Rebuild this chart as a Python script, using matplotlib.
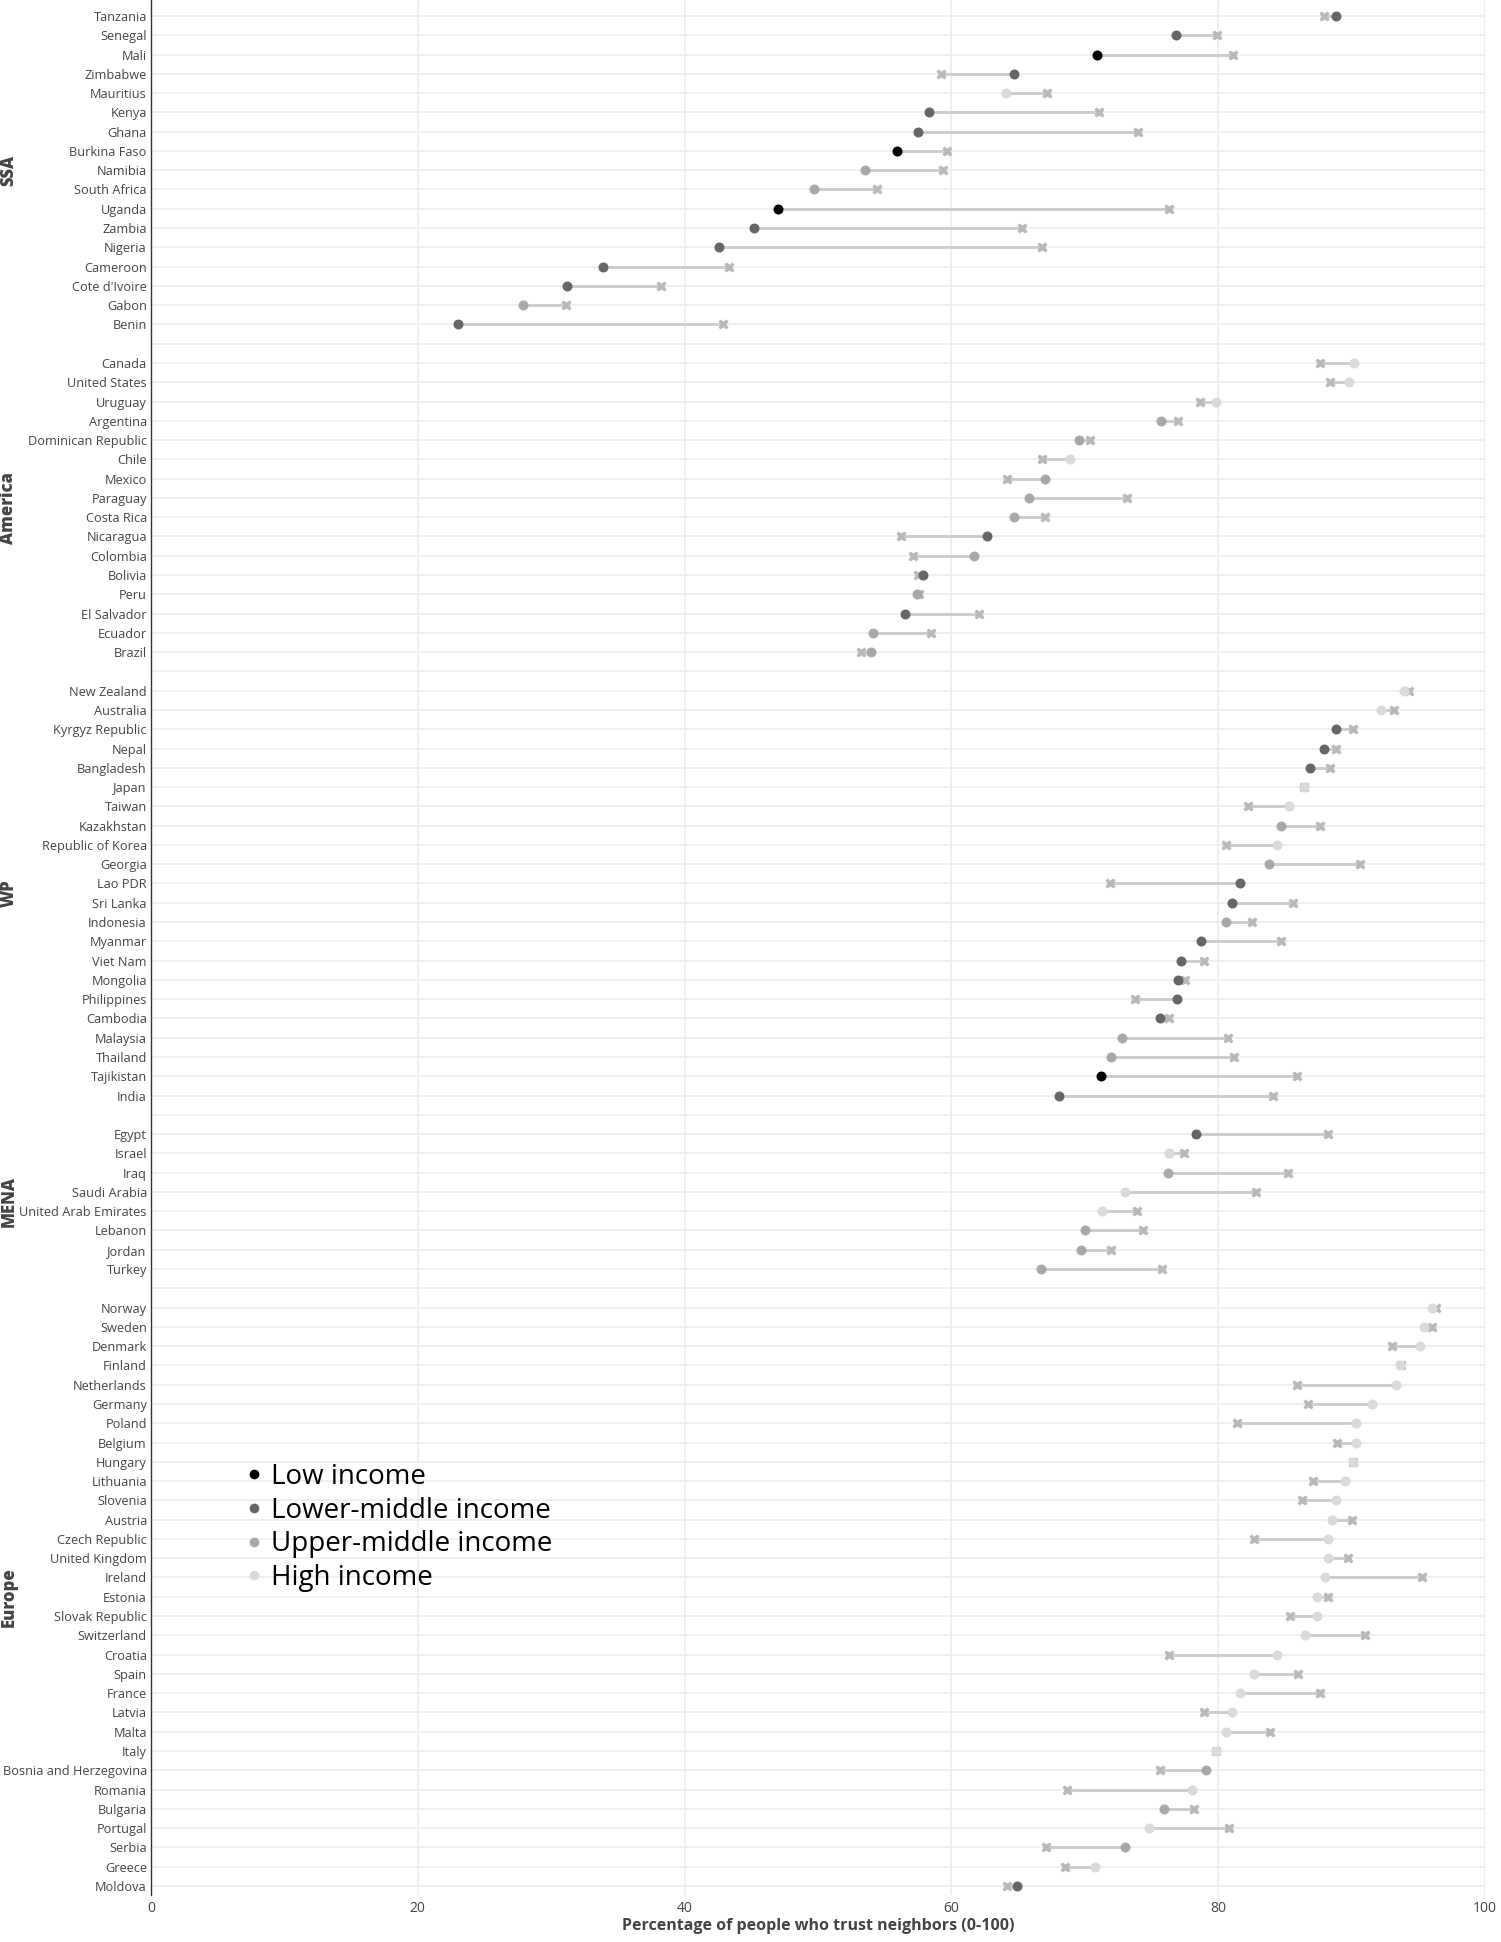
import matplotlib
matplotlib.use("Agg")
import matplotlib.pyplot as plt
from matplotlib.lines import Line2D

plt.rcParams['font.family'] = ['Open Sans', 'DejaVu Sans']

# --- data ---
ssa_countries = ["Tanzania", "Senegal", "Mali", "Zimbabwe", "Mauritius", "Kenya", "Ghana",
                 "Burkina Faso", "Namibia", "South Africa", "Uganda", "Zambia", "Nigeria",
                 "Cameroon", "Cote d'Ivoire", "Gabon", "Benin"]
ssa_dot = [88.8, 76.8, 70.9, 64.7, 64.1, 58.3, 57.5, 55.9, 53.5, 49.7, 47.0, 45.2, 42.6,
           33.9, 31.2, 27.9, 23.0]
ssa_cross = [87.9, 79.9, 81.1, 59.2, 67.2, 71.1, 74.0, 59.7, 59.4, 54.4, 76.3, 65.3, 66.8,
             43.3, 38.2, 31.1, 42.9]
ssa_income = ["LM", "LM", "L", "LM", "H", "LM", "LM", "L", "UM", "UM", "L", "LM", "LM",
              "LM", "LM", "UM", "LM"]

am_countries = ["Canada", "United States", "Uruguay", "Argentina", "Dominican Republic", "Chile",
                "Mexico", "Paraguay", "Costa Rica", "Nicaragua", "Colombia", "Bolivia", "Peru",
                "El Salvador", "Ecuador", "Brazil"]
am_dot = [90.2, 89.8, 79.8, 75.7, 69.6, 68.9, 67.0, 65.8, 64.7, 62.7, 61.7, 57.9, 57.4,
          56.5, 54.1, 54.0]
am_cross = [87.6, 88.4, 78.6, 77.0, 70.4, 66.8, 64.2, 73.2, 67.0, 56.2, 57.1, 57.5, 57.6,
            62.1, 58.5, 53.2]
am_income = ["H", "H", "H", "UM", "UM", "H", "UM", "UM", "UM", "LM", "UM", "LM", "UM",
             "LM", "UM", "UM"]

wp_countries = ["New Zealand", "Australia", "Kyrgyz Republic", "Nepal", "Bangladesh", "Japan",
                "Taiwan", "Kazakhstan", "Republic of Korea", "Georgia", "Lao PDR", "Sri Lanka",
                "Indonesia", "Myanmar", "Viet Nam", "Mongolia", "Philippines", "Cambodia",
                "Malaysia", "Thailand", "Tajikistan", "India"]
wp_dot = [93.9, 92.2, 88.8, 87.9, 86.9, 86.4, 85.3, 84.7, 84.4, 83.8, 81.6, 81.0, 80.6,
          78.7, 77.2, 77.0, 76.9, 75.6, 72.8, 72.0, 71.2, 68.1]
wp_cross = [94.3, 93.2, 90.1, 88.8, 88.4, 86.4, 82.2, 87.6, 80.6, 90.6, 71.9, 85.6, 82.5,
            84.7, 78.9, 77.5, 73.8, 76.3, 80.7, 81.2, 85.9, 84.1]
wp_income = ["H", "H", "LM", "LM", "LM", "H", "H", "UM", "H", "UM", "LM", "LM", "UM",
             "LM", "LM", "LM", "LM", "LM", "UM", "UM", "L", "LM"]

mena_countries = ["Egypt", "Israel", "Iraq", "Saudi Arabia", "United Arab Emirates", "Lebanon",
                  "Jordan", "Turkey"]
mena_dot = [78.3, 76.3, 76.2, 73.0, 71.3, 70.0, 69.7, 66.7]
mena_cross = [88.2, 77.4, 85.2, 82.8, 73.9, 74.4, 72.0, 75.8]
mena_income = ["LM", "H", "UM", "H", "H", "UM", "UM", "UM"]

eu_countries = ["Norway", "Sweden", "Denmark", "Finland", "Netherlands", "Germany", "Poland",
                "Belgium", "Hungary", "Lithuania", "Slovenia", "Austria", "Czech Republic",
                "United Kingdom", "Ireland", "Estonia", "Slovak Republic", "Switzerland",
                "Croatia", "Spain", "France", "Latvia", "Malta", "Italy",
                "Bosnia and Herzegovina", "Romania", "Bulgaria", "Portugal", "Serbia", "Greece",
                "Moldova"]
eu_dot = [96.0, 95.4, 95.1, 93.6, 93.3, 91.5, 90.3, 90.3, 90.1, 89.5, 88.8, 88.5, 88.2,
          88.2, 88.0, 87.4, 87.4, 86.5, 84.4, 82.7, 81.6, 81.0, 80.6, 79.8, 79.1, 78.0,
          75.9, 74.8, 73.0, 70.8, 64.9]
eu_cross = [96.3, 96.0, 93.0, 93.7, 85.9, 86.7, 81.4, 88.9, 90.1, 87.1, 86.3, 90.0, 82.7,
            89.7, 95.3, 88.2, 85.4, 91.0, 76.3, 86.0, 87.6, 78.9, 83.9, 79.8, 75.6, 68.7,
            78.2, 80.8, 67.1, 68.5, 64.2]
eu_income = ["H"] * 24 + ["UM", "H", "UM", "H", "UM", "H", "LM"]

groups = [
    ("SSA", ssa_countries, ssa_dot, ssa_cross, ssa_income),
    ("America", am_countries, am_dot, am_cross, am_income),
    ("WP", wp_countries, wp_dot, wp_cross, wp_income),
    ("MENA", mena_countries, mena_dot, mena_cross, mena_income),
    ("Europe", eu_countries, eu_dot, eu_cross, eu_income),
]

income_labels = {"L": "Low income", "LM": "Lower-middle income",
                 "UM": "Upper-middle income", "H": "High income"}
income_colors = {"L": "#000000", "LM": "#666666", "UM": "#a8a8a8", "H": "#dadada"}

W, H = 1501, 1942
fig = plt.figure(figsize=(W / 100, H / 100), dpi=100)
ax = fig.add_axes([151 / W, (H - 1895) / H, (1485 - 151) / W, 1895 / H])

ticks, labels = [], []
row = 0
for gname, names, dots, crosses, inc in groups:
    start = row
    for name, d, c, i in zip(names, dots, crosses, inc):
        ax.plot([d, c], [row, row], color="#cbcbcb", lw=2.0, zorder=2, solid_capstyle="butt")
        ax.plot(c, row, marker="X", ms=7.8, color="#b9b9b9", mec="none", zorder=3)
        ax.plot(d, row, marker="o", ms=7.2, color=income_colors[i], mec="none", zorder=4)
        ticks.append(row)
        labels.append(name)
        row += 1
    center = (start + row - 1) / 2
    ax.text(-0.1065, center, gname, transform=ax.get_yaxis_transform(), rotation=90,
            ha="center", va="center", fontsize=12, fontweight="heavy", color="#444444")
    ticks.append(row)
    labels.append("")
    row += 1

ax.set_yticks(ticks)
ax.set_yticklabels(labels, fontsize=9.2, color="#444444")
ax.set_ylim(row - 2 + 0.47, -0.83)
ax.set_xlim(0, 100)
ax.set_xticks([0, 20, 40, 60, 80, 100])
ax.tick_params(axis="y", length=0, pad=3)
ax.tick_params(axis="x", length=0, pad=4, labelsize=10, labelcolor="#444444")
ax.grid(True, color="#ececec", lw=1.2, zorder=0)
ax.set_axisbelow(True)
for s in ["top", "right", "bottom"]:
    ax.spines[s].set_visible(False)
ax.spines["left"].set_color("#333333")
ax.spines["left"].set_linewidth(1.0)
ax.set_xlabel("Percentage of people who trust neighbors (0-100)", fontsize=11.5,
              fontweight="bold", color="#444444", labelpad=2)

handles = [Line2D([], [], ls="none", marker="o", ms=7, color=income_colors[k], mec="none",
                  label=income_labels[k]) for k in ["L", "LM", "UM", "H"]]
fig.legend(handles=handles, loc="upper left", bbox_to_anchor=(232 / W, 1 - 1452 / H),
           frameon=False, fontsize=20, handletextpad=0.2, labelspacing=0.2,
           handlelength=0.8, borderaxespad=0)

fig.savefig("out.png", dpi=100)
